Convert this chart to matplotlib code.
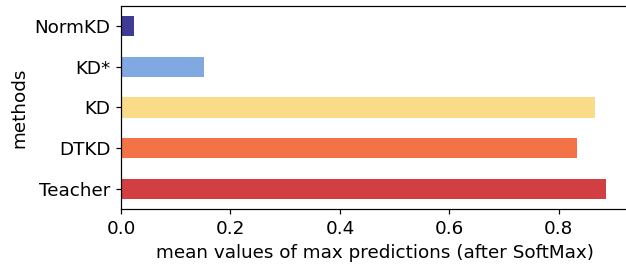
import matplotlib
matplotlib.use("Agg")
import matplotlib.pyplot as plt

methods = ["Teacher", "DTKD", "KD", "KD*", "NormKD"]
values = [0.886, 0.833, 0.866, 0.151, 0.023]
colors = ["#d13f42", "#f47346", "#fadc88", "#80a8e1", "#3f3a94"]

DPI = 110
W, H = 626, 267
plt.rcParams["font.family"] = "DejaVu Sans"
fig = plt.figure(figsize=(W / DPI, H / DPI), dpi=DPI)
ax = fig.add_axes([121 / W, (H - 209) / H, (630 - 121) / W, (209 - 6) / H])
pos = list(range(len(methods)))
ax.barh(pos, values, height=0.5, color=colors)
ax.set_yticks(pos)
ax.set_yticklabels(methods, fontsize=12)
ax.set_ylim(-0.5, len(methods) - 0.5)
ax.set_xlim(0, 0.93)
ax.set_xticks([0.0, 0.2, 0.4, 0.6, 0.8])
ax.set_xticklabels(["0.0", "0.2", "0.4", "0.6", "0.8"], fontsize=12)
ax.set_xlabel("mean values of max predictions (after SoftMax)", fontsize=12)
ax.set_ylabel("methods", fontsize=12)
fig.savefig("out.png", dpi=DPI)
